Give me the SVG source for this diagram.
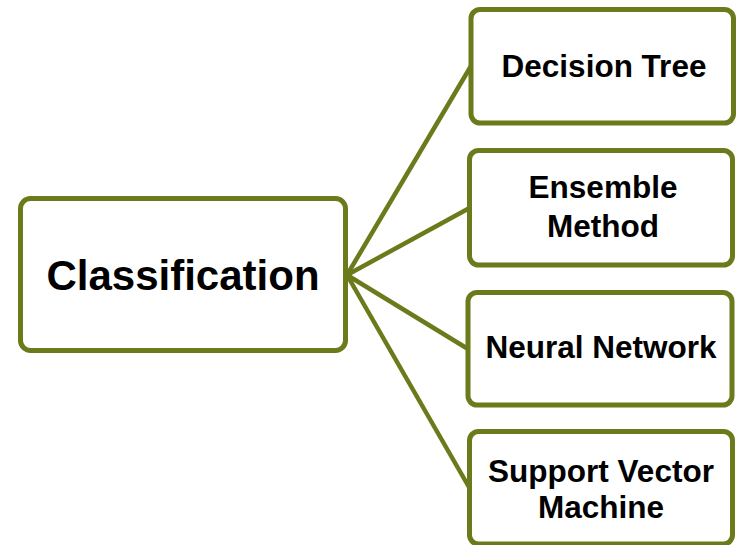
<svg xmlns="http://www.w3.org/2000/svg" width="736" height="545" viewBox="0 0 736 545">
  <style>
    .box { fill: #ffffff; stroke: #6b7a1b; stroke-width: 5; }
    .link { stroke: #6b7a1b; stroke-width: 4.5; fill: none; }
    .label { font-family: "Liberation Sans", Arial, sans-serif; font-weight: bold; fill: #000000; text-anchor: middle; }
    .big { font-size: 42px; }
    .small { font-size: 31.5px; }
  </style>
  <rect width="736" height="545" fill="#ffffff"/>

  <!-- connectors from the root to each leaf -->
  <g id="connectors">
    <line class="link" x1="347" y1="275" x2="471" y2="66"/>
    <line class="link" x1="347" y1="275" x2="469.5" y2="208"/>
    <line class="link" x1="347" y1="275" x2="468" y2="349"/>
    <line class="link" x1="347" y1="275" x2="469.5" y2="488"/>
  </g>

  <g id="classification">
    <rect class="box" x="20.5" y="198.5" width="325" height="152" rx="10"/>
    <text class="label big" x="183" y="290">Classification</text>
  </g>

  <g id="decision-tree">
    <rect class="box" x="471" y="9.5" width="262.5" height="113.5" rx="9"/>
    <text class="label small" x="604" y="77">Decision Tree</text>
  </g>

  <g id="ensemble-method">
    <rect class="box" x="469.5" y="150.5" width="263" height="114.5" rx="9"/>
    <text class="label small" x="603" y="198">Ensemble</text>
    <text class="label small" x="603" y="237">Method</text>
  </g>

  <g id="neural-network">
    <rect class="box" x="468" y="292.5" width="264" height="112.5" rx="9"/>
    <text class="label small" x="601" y="358">Neural Network</text>
  </g>

  <g id="support-vector-machine">
    <rect class="box" x="469.5" y="431.5" width="263" height="112.5" rx="9"/>
    <text class="label small" x="601" y="482">Support Vector</text>
    <text class="label small" x="601" y="518">Machine</text>
  </g>
</svg>
